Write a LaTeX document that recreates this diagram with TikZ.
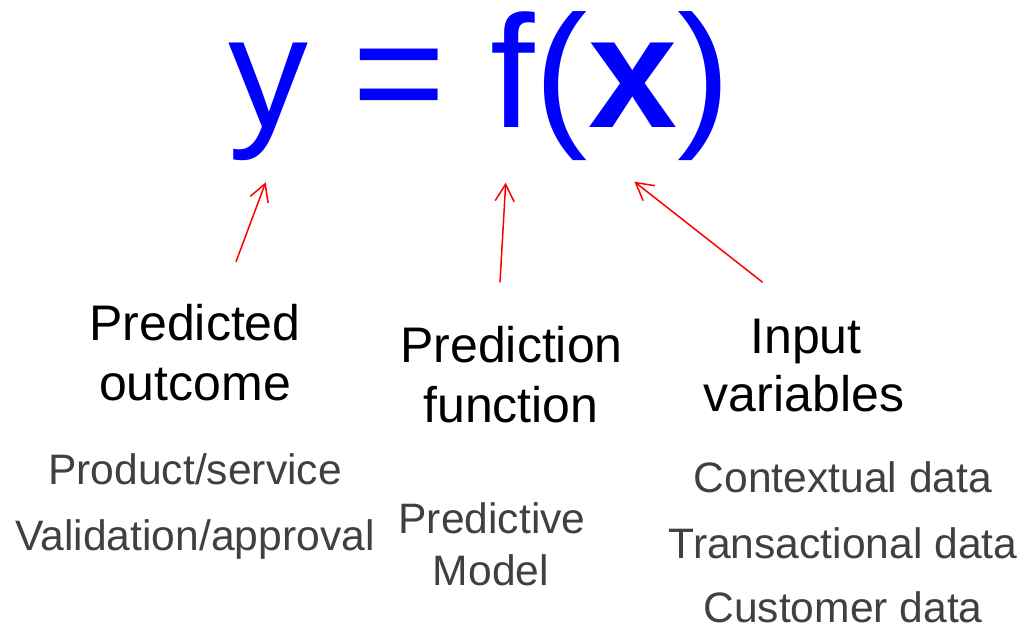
\documentclass[tikz,border=0pt]{standalone}
\usepackage{fontspec}
\setmainfont{Liberation Sans}
\usetikzlibrary{arrows.meta}
\definecolor{fblue}{HTML}{0000FF}
\definecolor{ared}{HTML}{FF0000}
\definecolor{tgray}{HTML}{404040}
\begin{document}
\begin{tikzpicture}[x=1pt,y=-1pt,
  every node/.style={inner sep=0pt,outer sep=0pt},
  formula/.style={anchor=base west,text=fblue,font=\fontsize{160}{190}\selectfont},
  blk/.style={anchor=base,text=black,font=\fontsize{50}{60}\selectfont},
  gry/.style={anchor=base,text=tgray,font=\fontsize{42.6}{50}\selectfont},
  arr/.style={draw=ared,line width=1.5pt,-{Straight Barb[length=17pt,width=19pt]}}]
\useasboundingbox (0,0) rectangle (1022,629);

% formula
\node[formula] (f) at (228,127.7) {y = f(\textbf{x})};

% labels
\node[blk] (po1) at (195,340) {Predicted};
\node[blk] (po2) at (195,400) {outcome};
\node[gry] (po3) at (195,484) {Product/service};
\node[gry] (po4) at (195,550) {Validation/approval};

\node[blk] (pf1) at (511.5,362) {Prediction};
\node[blk] (pf2) at (511,422) {function};
\node[gry] (pf3) at (492,533) {Predictive};
\node[gry] (pf4) at (491,585) {Model};

\node[blk] (iv1) at (806,353) {Input};
\node[blk] (iv2) at (804,411) {variables};
\node[gry] (iv3) at (843,492) {Contextual data};
\node[gry] (iv4) at (843,558) {Transactional data};
\node[gry] (iv5) at (843,622) {Customer data};

% arrow ends
\coordinate (t1) at (236,261.7);
\coordinate (h1) at (265.7,182.3);
\coordinate (t2) at (500,282.3);
\coordinate (h2) at (505.7,182.7);
\coordinate (t3) at (762.6,282.3);
\coordinate (h3) at (634.4,181.7);

\draw[arr] (t1) -- (h1);
\draw[arr] (t2) -- (h2);
\draw[arr] (t3) -- (h3);
\end{tikzpicture}
\end{document}
